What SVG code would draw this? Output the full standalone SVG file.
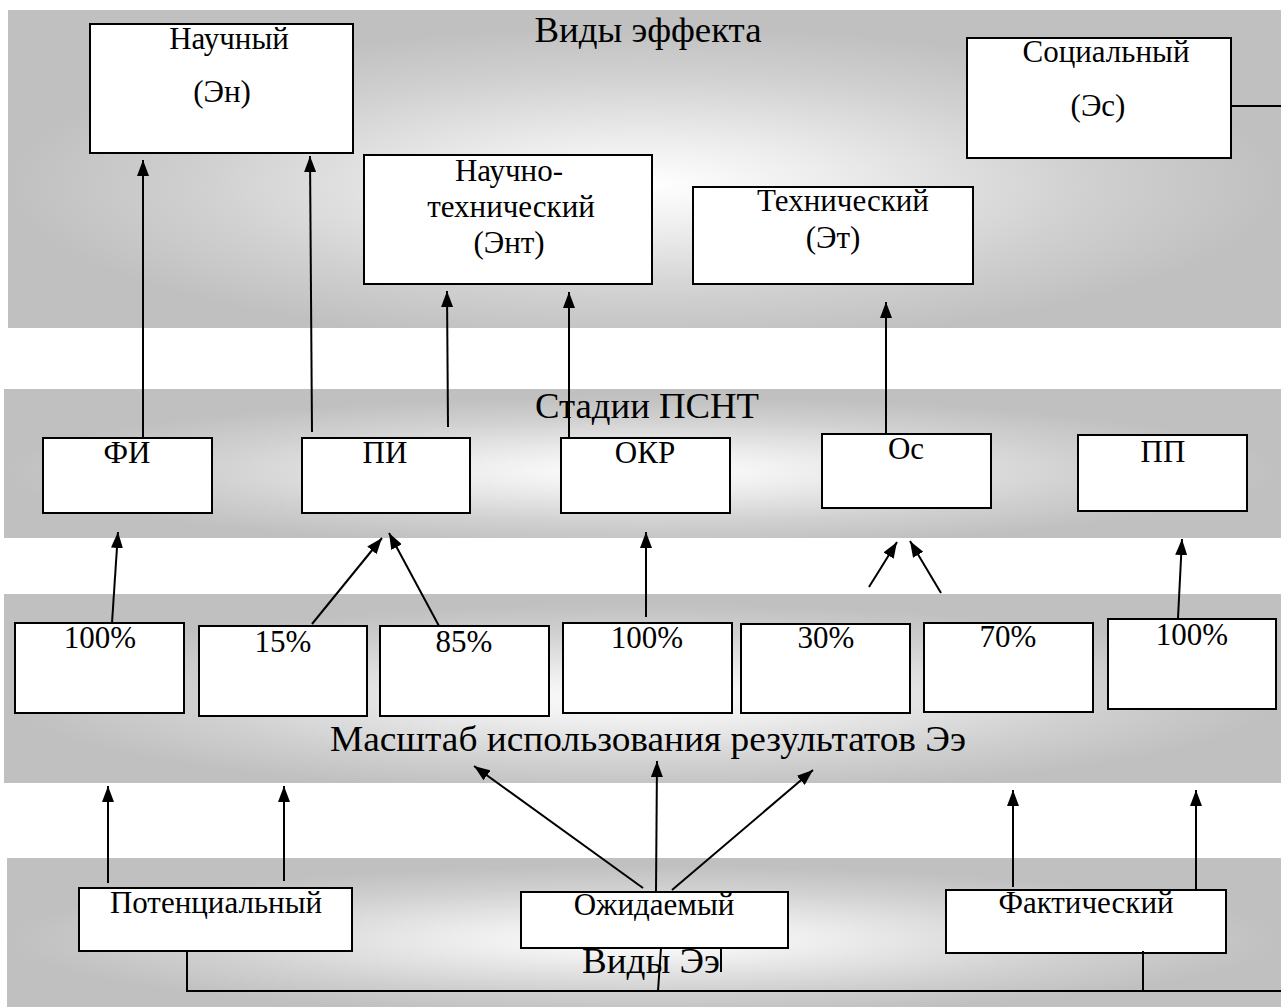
<svg xmlns="http://www.w3.org/2000/svg" width="1281" height="1007" viewBox="0 0 1281 1007">
<defs>
<radialGradient id="bandGrad" cx="0.5" cy="0.55" r="0.5">
<stop offset="0" stop-color="#ffffff"/>
<stop offset="0.3" stop-color="#ececec"/>
<stop offset="0.7" stop-color="#d0d0d0"/>
<stop offset="1" stop-color="#c0c0c0"/>
</radialGradient>
<marker id="arr" markerUnits="userSpaceOnUse" viewBox="0 0 16 12" refX="16" refY="6" markerWidth="16" markerHeight="12" orient="auto">
<path d="M0,0 L16,6 L0,12 Z" fill="#000"/>
</marker>
<style>
.band{fill:url(#bandGrad);}
.box{fill:#fff;stroke:#000;stroke-width:2;}
.t{font-family:"Liberation Serif","Times New Roman",serif;font-size:31px;fill:#000;text-anchor:middle;}
.title{font-family:"Liberation Serif","Times New Roman",serif;font-size:36px;fill:#000;text-anchor:middle;}
.ln{stroke:#000;stroke-width:2;fill:none;}
.ar{stroke:#000;stroke-width:2;fill:none;marker-end:url(#arr);}
</style>
</defs>
<rect width="1281" height="1007" fill="#fff"/>
<g id="bands">
<rect class="band" x="8" y="10" width="1273" height="318"/>
<rect class="band" x="4" y="389" width="1277" height="149"/>
<rect class="band" x="4" y="594" width="1277" height="189"/>
<rect class="band" x="7" y="858" width="1274" height="149"/>
</g>
<g id="titles">
<text class="title" x="648" y="42" textLength="227" lengthAdjust="spacingAndGlyphs">Виды эффекта</text>
<text class="title" x="647" y="418" textLength="224" lengthAdjust="spacingAndGlyphs">Стадии ПСНТ</text>
<text class="title" x="648" y="751" textLength="636" lengthAdjust="spacingAndGlyphs">Масштаб использования результатов Ээ</text>
<text class="title" x="651" y="973" textLength="138" lengthAdjust="spacingAndGlyphs">Виды Ээ</text>
</g>
<g id="n-nauchny"><rect class="box" x="90" y="24" width="263" height="129"/><text class="t" x="229" y="49">Научный</text><text class="t" x="222" y="102">(Эн)</text></g>
<g id="n-nt"><rect class="box" x="364" y="155" width="288" height="129"/><text class="t" x="509" y="181">Научно-</text><text class="t" x="511" y="217">технический</text><text class="t" x="509" y="253">(Энт)</text></g>
<g id="n-tech"><rect class="box" x="693" y="187" width="280" height="97"/><text class="t" x="843" y="211">Технический</text><text class="t" x="833" y="248">(Эт)</text></g>
<g id="n-soc"><rect class="box" x="967" y="38" width="264" height="120"/><text class="t" x="1106" y="62">Социальный</text><text class="t" x="1098" y="116">(Эс)</text></g>
<g id="n-fi"><rect class="box" x="43" y="438" width="169" height="75"/><text class="t" x="127" y="463">ФИ</text></g>
<g id="n-pi"><rect class="box" x="302" y="438" width="168" height="75"/><text class="t" x="385" y="463">ПИ</text></g>
<g id="n-okr"><rect class="box" x="561" y="438" width="169" height="75"/><text class="t" x="645" y="463">ОКР</text></g>
<g id="n-os"><rect class="box" x="822" y="434" width="169" height="74"/><text class="t" x="906" y="459">Ос</text></g>
<g id="n-pp"><rect class="box" x="1078" y="435" width="169" height="76"/><text class="t" x="1163" y="462">ПП</text></g>
<g id="n-p1"><rect class="box" x="15" y="623" width="169" height="90"/><text class="t" x="100" y="648">100%</text></g>
<g id="n-p2"><rect class="box" x="199" y="626" width="168" height="90"/><text class="t" x="283" y="652">15%</text></g>
<g id="n-p3"><rect class="box" x="380" y="626" width="169" height="90"/><text class="t" x="464" y="652">85%</text></g>
<g id="n-p4"><rect class="box" x="563" y="623" width="169" height="90"/><text class="t" x="647" y="648">100%</text></g>
<g id="n-p5"><rect class="box" x="741" y="624" width="169" height="89"/><text class="t" x="826" y="648">30%</text></g>
<g id="n-p6"><rect class="box" x="924" y="623" width="169" height="89"/><text class="t" x="1008" y="647">70%</text></g>
<g id="n-p7"><rect class="box" x="1108" y="619" width="168" height="90"/><text class="t" x="1192" y="645">100%</text></g>
<g id="n-pot"><rect class="box" x="79" y="888" width="273" height="63"/><text class="t" x="216" y="913">Потенциальный</text></g>
<g id="n-ozh"><rect class="box" x="521" y="892" width="267" height="56"/><text class="t" x="654" y="915">Ожидаемый</text></g>
<g id="n-fakt"><rect class="box" x="946" y="890" width="280" height="63"/><text class="t" x="1086" y="913">Фактический</text></g>
<g id="connectors">
<line class="ar" x1="143" y1="438" x2="143" y2="160"/>
<line class="ar" x1="312" y1="432" x2="310" y2="156"/>
<line class="ar" x1="448" y1="427" x2="447" y2="291"/>
<line class="ar" x1="569" y1="438" x2="569" y2="292"/>
<line class="ar" x1="886" y1="434" x2="886" y2="302"/>
<line class="ln" x1="1231" y1="106" x2="1281" y2="106"/>
<line class="ar" x1="112" y1="623" x2="118" y2="532"/>
<line class="ar" x1="312" y1="624" x2="382" y2="538"/>
<line class="ar" x1="439" y1="626" x2="389" y2="533"/>
<line class="ar" x1="646" y1="617" x2="646" y2="532"/>
<line class="ar" x1="869" y1="587" x2="897" y2="542"/>
<line class="ar" x1="941" y1="593" x2="910" y2="541"/>
<line class="ar" x1="1178" y1="618" x2="1182" y2="539"/>
<line class="ar" x1="108" y1="883" x2="108" y2="786"/>
<line class="ar" x1="284" y1="881" x2="284" y2="786"/>
<line class="ar" x1="643" y1="888" x2="474" y2="766"/>
<line class="ar" x1="656" y1="892" x2="657" y2="761"/>
<line class="ar" x1="672" y1="890" x2="813" y2="770"/>
<line class="ar" x1="1013" y1="887" x2="1013" y2="790"/>
<line class="ar" x1="1196" y1="889" x2="1196" y2="790"/>
<polyline class="ln" points="187,951 187,991 1281,991"/>
<line class="ln" x1="661" y1="948" x2="658" y2="991"/>
<line class="ln" x1="1143" y1="951" x2="1143" y2="991"/>
<line class="ln" x1="721" y1="948" x2="721" y2="972"/>
</g>
</svg>
